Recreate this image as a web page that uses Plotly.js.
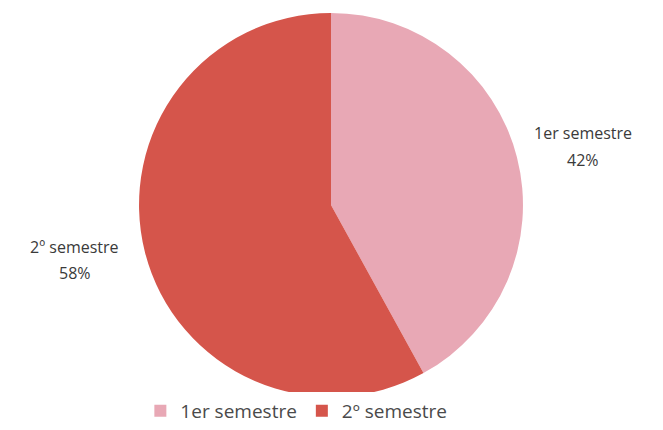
<!DOCTYPE html>
<html>
<head>
<meta charset="utf-8">
<script src="https://cdn.plot.ly/plotly-3.0.1.min.js"></script>
<style>html,body{margin:0;padding:0;background:#fff;}#chart{width:663px;height:430px;}</style>
</head>
<body>
<div id="chart"></div>
<script>
const categories = ["1er semestre", "2º semestre"];
const values = [42, 58];
const colors = ["#E8A8B5", "#D5554B"];

const trace = {
  type: "pie",
  labels: categories,
  values: values,
  sort: false,
  direction: "clockwise",
  rotation: 0,
  marker: {colors: colors, line: {width: 0}},
  textinfo: "none",
  hoverinfo: "label+percent",
  domain: {x: [0.2097, 0.7888], y: [0.077, 0.970]}
};

const total = values.reduce((a, b) => a + b, 0);
const pct = v => Math.round(v / total * 100) + "%";
const labelPos = [{x: 0.880, y1: 0.690, y2: 0.628}, {x: 0.113, y1: 0.425, y2: 0.364}];
const annFont = {family: "Open Sans, Liberation Sans, sans-serif", size: 16, color: "#3a3a3a"};
const annotations = [];
categories.forEach((c, i) => {
  annotations.push({text: c, x: labelPos[i].x, y: labelPos[i].y1, xref: "paper", yref: "paper",
    xanchor: "center", yanchor: "middle", showarrow: false, font: annFont});
  annotations.push({text: pct(values[i]), x: labelPos[i].x, y: labelPos[i].y2, xref: "paper", yref: "paper",
    xanchor: "center", yanchor: "middle", showarrow: false, font: annFont});
});

const layout = {
  width: 663, height: 430,
  margin: {l: 0, r: 0, t: 0, b: 0},
  paper_bgcolor: "#ffffff",
  showlegend: true,
  legend: {
    orientation: "h",
    x: 0.447, xanchor: "center",
    y: 0.0, yanchor: "bottom",
    font: {family: "Open Sans, Liberation Sans, sans-serif", size: 19, color: "#4a4a4a"},
    itemwidth: 30,
    traceorder: "normal"
  },
  annotations: annotations
};

Plotly.newPlot("chart", [trace], layout, {displayModeBar: false});
</script>
</body>
</html>
